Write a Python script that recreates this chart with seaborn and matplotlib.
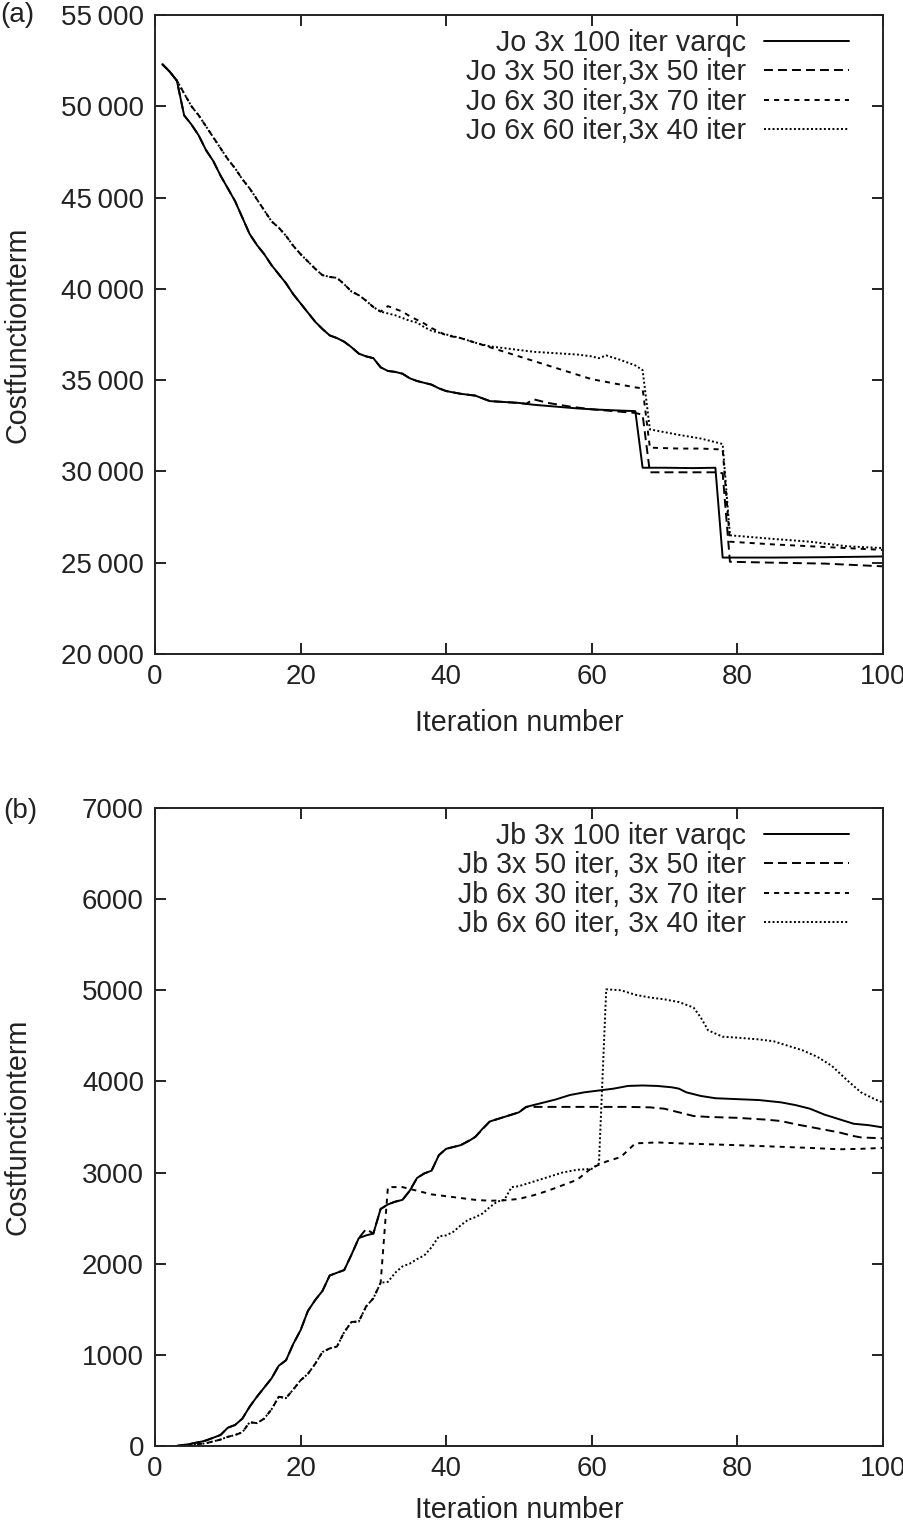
import numpy as np
import pandas as pd
import matplotlib
matplotlib.use("Agg")
import matplotlib.pyplot as plt
import seaborn as sns
from matplotlib.lines import Line2D
from matplotlib.ticker import FuncFormatter

# ---- panel (a): Jo cost term ----
jo_labels = ["Jo 3x 100 iter varqc", "Jo 3x 50 iter,3x 50 iter",
             "Jo 6x 30 iter,3x 70 iter", "Jo 6x 60 iter,3x 40 iter"]

# first 50 iterations are shared by the two "3x" runs
jo_low_x = [1, 2, 3, 4, 5, 6, 7, 8, 9, 10, 11, 12, 13, 14, 15, 16, 17, 18, 19, 20,
            21, 22, 23, 24, 25, 26, 27, 28, 29, 30, 31, 32, 33, 34, 35, 36, 37, 38, 39, 40,
            42, 44, 46, 48, 50]
jo_low_y = [52300, 51900, 51400, 49500, 49000, 48400, 47600, 47000, 46200, 45500,
            44800, 43900, 43000, 42400, 41900, 41300, 40800, 40300, 39700, 39200,
            38700, 38200, 37800, 37450, 37300, 37100, 36800, 36450, 36300, 36200,
            35700, 35500, 35450, 35350, 35100, 34950, 34850, 34750, 34550, 34400,
            34250, 34150, 33850, 33800, 33750]

jo_a_x = jo_low_x + [52, 55, 58, 61, 64, 66, 67, 70, 74, 77, 78, 85, 92, 100]
jo_a_y = jo_low_y + [33650, 33550, 33450, 33380, 33330, 33300, 30200, 30200, 30180,
                     30200, 25280, 25280, 25300, 25340]

jo_b_x = jo_low_x + [51, 52, 54, 57, 60, 63, 66, 67, 68, 72, 77, 78, 79, 85, 92, 100]
jo_b_y = jo_low_y + [33700, 33950, 33750, 33550, 33400, 33300, 33200, 33100, 29950,
                     29950, 29950, 29900, 25050, 25000, 24950, 24800]

# first 30 iterations are shared by the two "6x" runs
jo_up_x = list(range(1, 31))
jo_up_y = [52300, 51900, 51400, 50700, 50000, 49500, 48900, 48300, 47700, 47100,
           46600, 46000, 45500, 44900, 44300, 43700, 43350, 42900, 42350, 41900,
           41500, 41100, 40750, 40650, 40600, 40250, 39850, 39650, 39350, 39000]

jo_c_x = jo_up_x + [31, 32, 33, 34, 35, 36, 37, 38, 39, 40, 42, 44, 46, 48, 50, 52, 54,
                    56, 58, 60, 62, 64, 66, 67, 68, 72, 75, 78, 79, 85, 90, 95, 100]
jo_c_y = jo_up_y + [38750, 39050, 38900, 38750, 38500, 38300, 38100, 37850, 37650,
                    37450, 37300, 37050, 36800, 36550, 36300, 36050, 35800, 35550,
                    35300, 35050, 34900, 34750, 34600, 34550, 31300, 31250, 31250,
                    31200, 26150, 26000, 25900, 25800, 25700]

jo_d_x = jo_up_x + [31, 32, 33, 34, 35, 36, 37, 38, 39, 40, 42, 44, 46, 48, 50, 52, 54,
                    56, 58, 60, 61, 62, 64, 66, 67, 68, 72, 75, 78, 79, 85, 90, 95, 100]
jo_d_y = jo_up_y + [38750, 38650, 38550, 38400, 38250, 38150, 37900, 37700, 37600,
                    37500, 37300, 37050, 36850, 36750, 36650, 36550, 36500, 36450,
                    36400, 36300, 36200, 36350, 36100, 35800, 35550, 32300, 32000,
                    31800, 31500, 26500, 26300, 26150, 25900, 25800]

# ---- panel (b): Jb cost term ----
jb_labels = ["Jb 3x 100 iter varqc", "Jb 3x 50 iter, 3x 50 iter",
             "Jb 6x 30 iter, 3x 70 iter", "Jb 6x 60 iter, 3x 40 iter"]

jb_a_x = [3, 4, 5, 6, 7, 8, 9, 10, 11, 12, 13, 14, 15, 16, 17, 18, 19, 20, 21, 22,
          23, 24, 25, 26, 27, 28, 29, 30, 31, 32, 33, 34, 35, 36, 37, 38, 39, 40, 41, 42,
          43, 44, 45, 46, 48, 50, 51, 53, 55, 57, 59, 61, 63, 65, 67, 69, 71, 72, 73, 75,
          77, 80, 83, 86, 88, 90, 92, 94, 96, 98, 100]
jb_a_y = [0, 10, 25, 40, 60, 90, 120, 200, 230, 300, 430, 540, 640, 740, 880, 940,
          1120, 1270, 1480, 1600, 1700, 1870, 1900, 1930, 2100, 2280, 2310, 2330, 2600,
          2650, 2680, 2700, 2800, 2940, 2990, 3020, 3190, 3260, 3280, 3300, 3340, 3390,
          3480, 3560, 3610, 3660, 3720, 3760, 3800, 3850, 3880, 3900, 3920, 3950, 3955,
          3950, 3935, 3920, 3880, 3840, 3815, 3805, 3795, 3770, 3740, 3700, 3635, 3585,
          3535, 3520, 3495]

jb_b_x = [3, 5, 7, 9, 10, 11, 12, 13, 14, 15, 16, 17, 18, 19, 20, 21, 22, 23, 24, 25,
          26, 27, 28, 29, 30, 31, 32, 33, 34, 35, 36, 37, 38, 39, 40, 42, 44, 46, 48, 50,
          51, 55, 60, 65, 68, 70, 72, 74, 76, 80, 84, 86, 88, 90, 92, 94, 96, 97, 100]
jb_b_y = [0, 25, 60, 120, 200, 230, 300, 430, 540, 640, 740, 880, 940, 1120, 1270,
          1480, 1600, 1700, 1870, 1900, 1930, 2100, 2280, 2380, 2330, 2600, 2650, 2680,
          2700, 2800, 2940, 2990, 3020, 3190, 3260, 3300, 3390, 3560, 3610, 3660, 3720,
          3720, 3720, 3720, 3715, 3700, 3660, 3620, 3610, 3600, 3580, 3565, 3530, 3500,
          3470, 3440, 3400, 3385, 3375]

# first 31 iterations are shared by the two "6x" runs
jb_low_x = [3, 5, 6, 7, 8, 9, 10, 11, 12, 13, 14, 15, 16, 17, 18, 19, 20, 21, 22, 23,
            24, 25, 26, 27, 28, 29, 30, 31]
jb_low_y = [0, 10, 20, 30, 50, 70, 100, 120, 150, 260, 250, 300, 400, 540, 525, 620,
            720, 790, 900, 1030, 1070, 1090, 1250, 1360, 1365, 1530, 1620, 1790]

jb_c_x = jb_low_x + [32, 34, 36, 38, 40, 42, 44, 46, 48, 50, 52, 54, 56, 58, 60, 62, 64,
                     66, 69, 72, 76, 80, 85, 90, 94, 97, 100]
jb_c_y = jb_low_y + [2840, 2840, 2800, 2760, 2740, 2720, 2700, 2690, 2695, 2710, 2750,
                     2800, 2860, 2920, 3050, 3120, 3170, 3320, 3330, 3320, 3310, 3300,
                     3285, 3270, 3255, 3260, 3270]

jb_d_x = jb_low_x + [32, 33, 34, 35, 36, 37, 38, 39, 40, 41, 42, 43, 44, 45, 46, 47, 48,
                     49, 50, 52, 54, 56, 58, 60, 61, 62, 64, 66, 68, 70, 72, 74, 75, 76,
                     78, 80, 83, 85, 87, 89, 91, 93, 95, 97, 99, 100]
jb_d_y = jb_low_y + [1800, 1900, 1970, 2000, 2050, 2090, 2180, 2300, 2310, 2350, 2420,
                     2480, 2510, 2550, 2620, 2680, 2700, 2840, 2850, 2900, 2950, 3000,
                     3030, 3040, 3100, 5010, 5000, 4950, 4920, 4900, 4870, 4810, 4700,
                     4560, 4490, 4480, 4460, 4440, 4390, 4340, 4270, 4170, 4020, 3880,
                     3800, 3770]

# line styles: solid, long dash, short dash, dots (in units of line width)
dash_list = ["", (4.6, 2.6), (2.6, 2.6), (1.0, 1.2)]


def to_frame(xs, ys, labels):
    parts = []
    for x, y, lab in zip(xs, ys, labels):
        parts.append(pd.DataFrame({"iter": x, "cost": y, "run": lab}))
    return pd.concat(parts, ignore_index=True)


df_jo = to_frame([jo_a_x, jo_b_x, jo_c_x, jo_d_x], [jo_a_y, jo_b_y, jo_c_y, jo_d_y], jo_labels)
df_jb = to_frame([jb_a_x, jb_b_x, jb_c_x, jb_d_x], [jb_a_y, jb_b_y, jb_c_y, jb_d_y], jb_labels)

sns.set_theme(style="ticks")
plt.rcParams["font.family"] = ["Liberation Sans", "DejaVu Sans"]
plt.rcParams["axes.linewidth"] = 1.4
lw = 1.4
fs = 20
fs_leg = 20.6

fig = plt.figure(figsize=(9.04, 15.23), dpi=100)
ax1 = fig.add_axes([0.1715, 0.5706, 0.805, 0.4196])
ax2 = fig.add_axes([0.1715, 0.0506, 0.805, 0.4189])


def draw_panel(ax, df, labels, ylim, yticks, fmt, xlab_y):
    dashes = dict(zip(labels, dash_list))
    sns.lineplot(data=df, x="iter", y="cost", style="run", style_order=labels,
                 dashes=dashes, color="black", linewidth=lw, estimator=None,
                 sort=False, legend=False, ax=ax)
    ax.set_xlim(0, 100)
    ax.set_ylim(*ylim)
    ax.set_xticks(range(0, 101, 20))
    ax.set_yticks(yticks)
    ax.yaxis.set_major_formatter(FuncFormatter(fmt))
    ax.tick_params(direction="in", length=8, width=1.4, top=True, right=True,
                   labelsize=fs, colors="#222222")
    ax.tick_params(axis="x", pad=7)
    ax.tick_params(axis="y", pad=8)
    for s in ax.spines.values():
        s.set_visible(True)
        s.set_color("#222222")
    ax.set_xlabel("Iteration number", fontsize=fs_leg, color="#222222")
    ax.set_ylabel("Costfunctionterm", fontsize=fs_leg, color="#222222")
    ax.xaxis.set_label_coords(0.5, xlab_y)
    ax.yaxis.set_label_coords(-0.17, 0.5)

    handles = []
    for d in dash_list:
        if d == "":
            handles.append(Line2D([], [], color="black", lw=lw))
        else:
            handles.append(Line2D([], [], color="black", lw=lw, dashes=d))
    ax.legend(handles, labels, loc="upper right", bbox_to_anchor=(0.953, 0.978),
              frameon=False, markerfirst=False, fontsize=fs_leg, handlelength=2.95,
              handletextpad=0.62, labelspacing=0.05, borderpad=0, borderaxespad=0)


draw_panel(ax1, df_jo, jo_labels, (20000, 55000), range(20000, 55001, 5000),
           lambda v, p: f"{int(v) // 1000}\u2009000", -0.086)
draw_panel(ax2, df_jb, jb_labels, (0, 7000), range(0, 7001, 1000),
           lambda v, p: f"{int(v)}", -0.078)

fig.text(0.0, 0.999, "(a)", fontsize=fs, va="top", ha="left", color="#222222")
fig.text(0.004, 0.476, "(b)", fontsize=fs, va="top", ha="left", color="#222222")

fig.savefig("out.png", dpi=100, facecolor="white")
